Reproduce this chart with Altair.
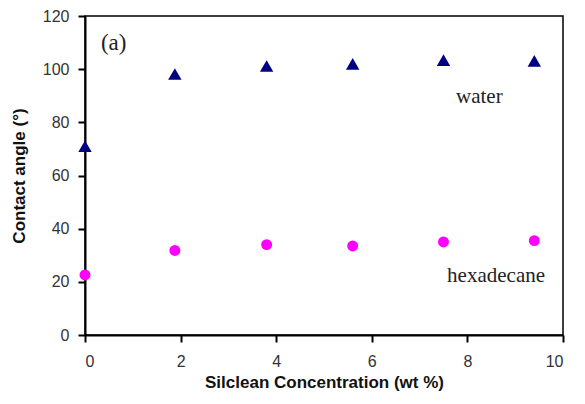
import altair as alt
import pandas as pd

conc = [0.0, 1.88, 3.8, 5.6, 7.5, 9.4]
water = [71.0, 98.2, 101.2, 102.0, 103.4, 103.1]
hexadecane = [22.6, 31.8, 34.0, 33.5, 35.0, 35.5]

labels = ["water", "hexadecane", "(a)"]
label_x = [8.25, 8.6, 0.6]
label_y = [89.5, 22.3, 110.0]
label_size = [21, 21, 23]

dw = pd.DataFrame({"x": conc, "y": water})
dh = pd.DataFrame({"x": conc, "y": hexadecane})
dl = pd.DataFrame({"x": label_x, "y": label_y, "t": labels, "s": label_size})

xs = alt.Scale(domain=[0, 10], nice=False, zero=False)
ys = alt.Scale(domain=[0, 120], nice=False)

xaxis = alt.Axis(values=[0, 2, 4, 6, 8, 10], grid=False, title="Silclean Concentration (wt %)",
                 domainColor="black", domainWidth=2, tickColor="black", tickWidth=2, tickSize=7,
                 labelFont="Liberation Sans", labelFontSize=16, labelColor="#333",
                 labelPadding=11, titleFont="Liberation Sans", titleFontSize=17,
                 titleFontWeight="bold", titleColor="#111", titlePadding=5)
yaxis = alt.Axis(values=[0, 20, 40, 60, 80, 100, 120], grid=False, title="Contact angle (°)",
                 domainColor="black", domainWidth=2, tickColor="black", tickWidth=2, tickSize=7,
                 labelFont="Liberation Sans", labelFontSize=16, labelColor="#333",
                 labelPadding=9, titleFont="Liberation Sans", titleFontSize=17,
                 titleFontWeight="bold", titleColor="#111", titlePadding=14)

pw = alt.Chart(dw).mark_point(shape="triangle-up", filled=True, color="#000080", size=180, opacity=1).encode(
    x=alt.X("x:Q", scale=xs, axis=xaxis), y=alt.Y("y:Q", scale=ys, axis=yaxis))
ph = alt.Chart(dh).mark_circle(color="#ff00ff", size=120, opacity=1).encode(
    x=alt.X("x:Q", scale=xs), y=alt.Y("y:Q", scale=ys))
tl = alt.Chart(dl).mark_text(font="Liberation Serif", color="#222", align="center", baseline="middle").encode(
    x=alt.X("x:Q", scale=xs), y=alt.Y("y:Q", scale=ys), text="t:N",
    size=alt.Size("s:Q", scale=None, legend=None))

chart = alt.layer(pw, ph, tl).properties(
    width=478, height=319, autosize=alt.AutoSizeParams(type="none"),
    padding={"left": 77, "top": 8, "right": 14, "bottom": 59}
).configure_view(stroke="black", strokeWidth=1.5)

chart.save("out.html", embed_options={"renderer": "svg", "actions": False})
